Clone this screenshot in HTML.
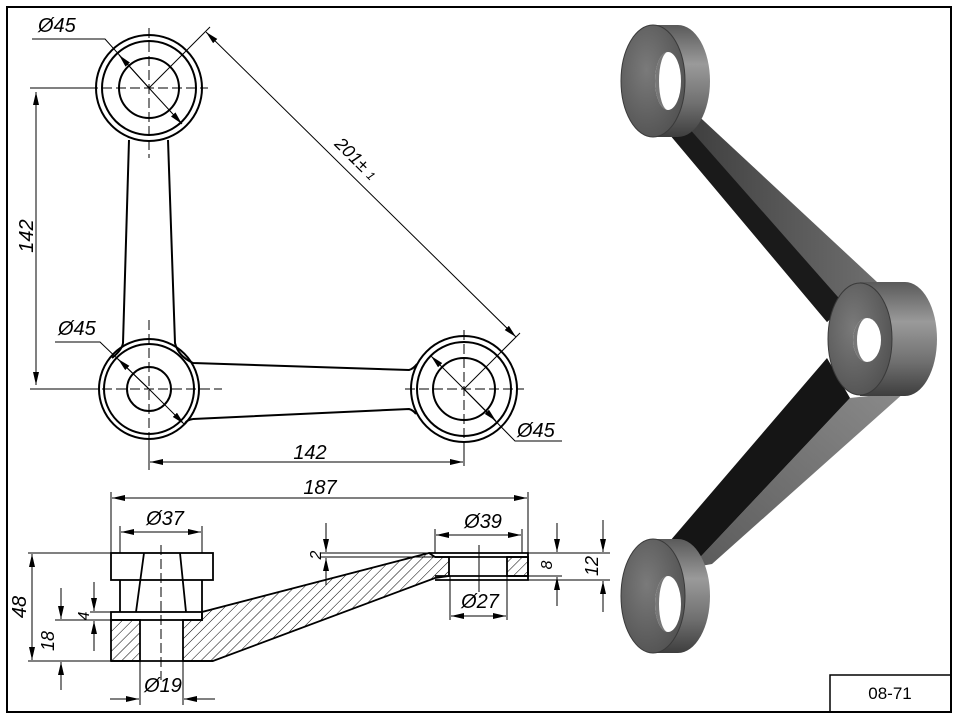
<!DOCTYPE html>
<html><head><meta charset="utf-8"><style>
html,body{margin:0;padding:0;background:#fff;}
svg{display:block;}
text{font-family:"Liberation Sans",sans-serif;font-style:italic;fill:#000;}
</style></head><body>
<svg width="957" height="719" viewBox="0 0 957 719" xmlns="http://www.w3.org/2000/svg">
<defs>
<marker id="a" markerUnits="userSpaceOnUse" markerWidth="14" markerHeight="8" refX="13" refY="3" orient="auto-start-reverse"><path d="M0,0 L13,3 L0,6 z" fill="#000"/></marker>
<pattern id="h" patternUnits="userSpaceOnUse" width="7" height="7" patternTransform="rotate(45)"><line x1="0" y1="0" x2="0" y2="7" stroke="#000" stroke-width="1"/></pattern>
<linearGradient id="cyl" x1="0" y1="0" x2="0" y2="1"><stop offset="0" stop-color="#5a5a5a"/><stop offset="0.35" stop-color="#9a9a9a"/><stop offset="0.7" stop-color="#707070"/><stop offset="1" stop-color="#3e3e3e"/></linearGradient>
<radialGradient id="face" cx="0.4" cy="0.4" r="0.7"><stop offset="0" stop-color="#7a7a7a"/><stop offset="1" stop-color="#505050"/></radialGradient>
<linearGradient id="arm1" x1="0" y1="0" x2="1" y2="0"><stop offset="0" stop-color="#3a3a3a"/><stop offset="1" stop-color="#6e6e6e"/></linearGradient>
<linearGradient id="arm2" x1="0" y1="1" x2="1" y2="0"><stop offset="0" stop-color="#5a5a5a"/><stop offset="1" stop-color="#8a8a8a"/></linearGradient>
</defs>
<rect x="7" y="7" width="944" height="705" fill="none" stroke="#000" stroke-width="2"/>
<rect x="830" y="675" width="121" height="37" fill="none" stroke="#000" stroke-width="1.5"/>
<text x="890" y="699" text-anchor="middle" font-size="17" style="font-style:normal">08-71</text>

<!-- TOP VIEW -->
<g fill="none" stroke="#000" stroke-width="2">
<circle cx="149" cy="88" r="53"/><circle cx="149" cy="88" r="47"/><circle cx="149" cy="88" r="30"/>
<circle cx="149" cy="389" r="50"/><circle cx="149" cy="389" r="45"/><circle cx="149" cy="389" r="22"/>
<circle cx="464" cy="389" r="53"/><circle cx="464" cy="389" r="47"/><circle cx="464" cy="389" r="31"/>
<path d="M129,140 L123,343 Q122,350 112,358"/>
<path d="M168,140 L175,343 Q178,356 193,363 L409,370 Q413,369 417,364"/>
<path d="M193,419 L409,409 Q413,410 416,414"/>
<path d="M193,419 Q186,420 185,424"/>
</g>
<g stroke="#000" stroke-width="1" stroke-dasharray="10 4" fill="none">
<line x1="149" y1="28" x2="149" y2="158"/><line x1="88" y1="88" x2="208" y2="88"/>
<line x1="149" y1="320" x2="149" y2="470"/><line x1="88" y1="389" x2="222" y2="389"/>
<line x1="464" y1="330" x2="464" y2="470"/><line x1="405" y1="389" x2="524" y2="389"/>
</g>
<g stroke="#000" stroke-width="1" fill="none">
<line x1="30" y1="88" x2="96" y2="88"/><line x1="30" y1="389" x2="96" y2="389"/>
<line x1="36" y1="92" x2="36" y2="385" marker-start="url(#a)" marker-end="url(#a)"/>
<line x1="149" y1="440" x2="149" y2="466"/><line x1="464" y1="443" x2="464" y2="466"/>
<line x1="150" y1="462" x2="463" y2="462" marker-start="url(#a)" marker-end="url(#a)"/>
<line x1="149" y1="88" x2="210" y2="27"/><line x1="464" y1="389" x2="520" y2="333"/>
<line x1="206" y1="32" x2="516" y2="337" marker-start="url(#a)" marker-end="url(#a)"/>
<path d="M32,39 L105,39 L149,88"/>
<line x1="149" y1="88" x2="119" y2="55" marker-end="url(#a)"/>
<line x1="149" y1="88" x2="182" y2="124" marker-end="url(#a)"/>
<path d="M55,342 L100,342 L149,389"/>
<line x1="149" y1="389" x2="118" y2="359" marker-end="url(#a)"/>
<line x1="149" y1="389" x2="184" y2="424" marker-end="url(#a)"/>
<path d="M562,441 L515,441 L464,389"/>
<line x1="464" y1="389" x2="431" y2="356" marker-end="url(#a)"/>
<line x1="464" y1="389" x2="496" y2="421" marker-end="url(#a)"/>
</g>
<text x="38" y="32" font-size="20">Ø45</text>
<text x="58" y="335" font-size="20">Ø45</text>
<text x="517" y="437" font-size="20">Ø45</text>
<text x="310" y="459" font-size="20" text-anchor="middle">142</text>
<text transform="translate(33,236) rotate(-90)" font-size="20" text-anchor="middle">142</text>
<text transform="translate(352,163) rotate(44.5)" font-size="18" text-anchor="middle">201± <tspan font-size="12">1</tspan></text>

<!-- SECTION VIEW -->
<path d="M111,620 L140,620 L140,661 L111,661 Z" fill="url(#h)" stroke="#000" stroke-width="1.8"/>
<path d="M183,620 L202,620 L202,612 L429,553 L435,557 L449,557 L449,576 L435,578 L213,661 L183,661 Z" fill="url(#h)" stroke="#000" stroke-width="1.8"/>
<rect x="507" y="557" width="21" height="19" fill="url(#h)" stroke="#000" stroke-width="1.8"/>
<g fill="none" stroke="#000" stroke-width="1.8">
<rect x="111" y="553" width="102" height="27"/>
<line x1="120" y1="580" x2="120" y2="612"/><line x1="202" y1="580" x2="202" y2="612"/>
<rect x="111" y="612" width="91" height="8"/>
<path d="M144,553 L136,612 M180,553 L186,612"/>
<line x1="111" y1="661" x2="213" y2="661"/>
<path d="M429,553 L528,553 L528,580 L435,580 M435,557 L528,557 M435,576 L528,576"/>
</g>
<g stroke="#000" stroke-width="1" stroke-dasharray="10 4" fill="none">
<line x1="161" y1="545" x2="161" y2="680"/>
</g>
<line x1="479" y1="545" x2="479" y2="592" stroke="#000" stroke-width="1"/>
<g stroke="#000" stroke-width="1" fill="none">
<line x1="111" y1="553" x2="111" y2="492"/><line x1="528" y1="553" x2="528" y2="492"/>
<line x1="112" y1="498" x2="527" y2="498" marker-start="url(#a)" marker-end="url(#a)"/>
<line x1="120" y1="553" x2="120" y2="526"/><line x1="202" y1="553" x2="202" y2="526"/>
<line x1="121" y1="532" x2="201" y2="532" marker-start="url(#a)" marker-end="url(#a)"/>
<line x1="435" y1="553" x2="435" y2="529"/><line x1="522" y1="553" x2="522" y2="529"/>
<line x1="436" y1="535" x2="521" y2="535" marker-start="url(#a)" marker-end="url(#a)"/>
<line x1="450" y1="576" x2="450" y2="620"/><line x1="507" y1="576" x2="507" y2="620"/>
<line x1="451" y1="616" x2="506" y2="616" marker-start="url(#a)" marker-end="url(#a)"/>
<line x1="140" y1="661" x2="140" y2="705"/><line x1="183" y1="661" x2="183" y2="705"/>
<line x1="110" y1="699" x2="139" y2="699" marker-end="url(#a)"/>
<line x1="215" y1="699" x2="184" y2="699" marker-end="url(#a)"/>
<line x1="28" y1="553" x2="111" y2="553"/><line x1="28" y1="661" x2="111" y2="661"/>
<line x1="32" y1="554" x2="32" y2="660" marker-start="url(#a)" marker-end="url(#a)"/>
<line x1="55" y1="620" x2="111" y2="620"/>
<line x1="61" y1="588" x2="61" y2="619" marker-end="url(#a)"/>
<line x1="61" y1="690" x2="61" y2="662" marker-end="url(#a)"/>
<line x1="90" y1="612" x2="111" y2="612"/><line x1="90" y1="620" x2="111" y2="620"/>
<line x1="94" y1="582" x2="94" y2="611" marker-end="url(#a)"/>
<line x1="94" y1="651" x2="94" y2="621" marker-end="url(#a)"/>
<line x1="320" y1="553" x2="429" y2="553"/><line x1="320" y1="557" x2="435" y2="557"/>
<line x1="326" y1="523" x2="326" y2="552" marker-end="url(#a)"/>
<line x1="326" y1="585" x2="326" y2="558" marker-end="url(#a)"/>
<line x1="528" y1="553" x2="610" y2="553"/><line x1="528" y1="576" x2="562" y2="576"/><line x1="528" y1="580" x2="610" y2="580"/>
<line x1="557" y1="523" x2="557" y2="552" marker-end="url(#a)"/>
<line x1="557" y1="606" x2="557" y2="577" marker-end="url(#a)"/>
<line x1="603" y1="520" x2="603" y2="552" marker-end="url(#a)"/>
<line x1="603" y1="612" x2="603" y2="581" marker-end="url(#a)"/>
</g>
<text x="320" y="494" font-size="20" text-anchor="middle">187</text>
<text x="165" y="525" font-size="20" text-anchor="middle">Ø37</text>
<text x="483" y="528" font-size="20" text-anchor="middle">Ø39</text>
<text x="480" y="608" font-size="20" text-anchor="middle">Ø27</text>
<text x="163" y="692" font-size="20" text-anchor="middle">Ø19</text>
<text transform="translate(26,607) rotate(-90)" font-size="20" text-anchor="middle">48</text>
<text transform="translate(54,641) rotate(-90)" font-size="18" text-anchor="middle">18</text>
<text transform="translate(89,616) rotate(-90)" font-size="16" text-anchor="middle">4</text>
<text transform="translate(321,555) rotate(-90)" font-size="16" text-anchor="middle">2</text>
<text transform="translate(552,565) rotate(-90)" font-size="16" text-anchor="middle">8</text>
<text transform="translate(598,566) rotate(-90)" font-size="18" text-anchor="middle">12</text>

<!-- 3D RENDER -->
<path d="M670,135 L690,108 L877,282 L827,322 Z" fill="url(#arm1)"/>
<path d="M670,135 L680,118 L845,305 L827,322 Z" fill="#1a1a1a"/>
<path d="M850,398 L905,392 L712,564 L690,568 Z" fill="url(#arm2)"/>
<path d="M827,358 L850,398 L690,568 L670,541 Z" fill="#151515"/>
<ellipse cx="678" cy="81" rx="32" ry="56" fill="url(#cyl)"/>
<rect x="653" y="25" width="25" height="112" fill="url(#cyl)"/>
<ellipse cx="653" cy="81" rx="32" ry="56" fill="url(#face)" stroke="#3a3a3a" stroke-width="1"/>
<ellipse cx="668" cy="81" rx="13" ry="29" fill="#fff"/>
<path d="M668,52 A13,29 0 0 0 668,110 A9,29 0 0 1 668,52 Z" fill="#777"/>
<ellipse cx="678" cy="596" rx="32" ry="57" fill="url(#cyl)"/>
<rect x="653" y="539" width="25" height="114" fill="url(#cyl)"/>
<ellipse cx="653" cy="596" rx="32" ry="57" fill="url(#face)" stroke="#3a3a3a" stroke-width="1"/>
<ellipse cx="668" cy="604" rx="13" ry="28" fill="#fff"/>
<path d="M668,576 A13,28 0 0 0 668,632 A9,28 0 0 1 668,576 Z" fill="#777"/>
<ellipse cx="905" cy="339" rx="32" ry="57" fill="url(#cyl)"/>
<rect x="860" y="282" width="45" height="114" fill="url(#cyl)"/>
<ellipse cx="860" cy="339" rx="32" ry="56" fill="url(#face)" stroke="#3a3a3a" stroke-width="1"/>
<ellipse cx="867" cy="340" rx="14" ry="22" fill="#fff"/>
<path d="M867,318 A14,22 0 0 0 867,362 A10,22 0 0 1 867,318 Z" fill="#777"/>
</svg>
</body></html>
